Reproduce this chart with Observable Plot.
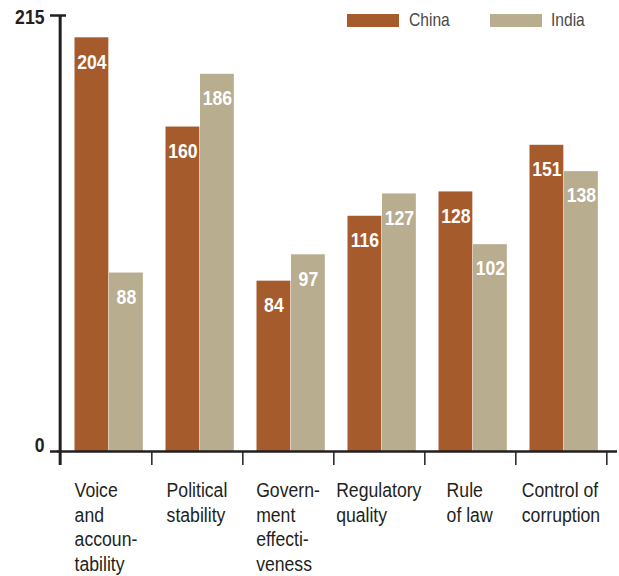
<!DOCTYPE html>
<html><head><meta charset="utf-8">
<script src="https://cdn.jsdelivr.net/npm/d3@7"></script>
<script src="https://cdn.jsdelivr.net/npm/@observablehq/plot@0.6"></script>
<style>
body{margin:0;background:#fff;}
#wrap{position:relative;width:619px;height:576px;font-family:"Liberation Sans",Arial,sans-serif;}
.sw{position:absolute;width:52px;height:13px;}
.lt{position:absolute;font-size:19px;color:#4a4a4a;line-height:20px;transform:scaleX(0.82);transform-origin:0 0;}
</style></head><body><div id="wrap"></div>
<script>
const categories = ["Voice and accountability", "Political stability", "Government effectiveness", "Regulatory quality", "Rule of law", "Control of corruption"];
const categoryLabels = ["Voice\nand\naccoun-\ntability", "Political\nstability", "Govern-\nment\neffecti-\nveness", "Regulatory\nquality", "Rule\nof law", "Control of\ncorruption"];
const series = ["China", "India"];
const china = [204, 160, 84, 116, 128, 151];
const india = [88, 186, 97, 127, 102, 138];
const yTicks = [0, 215];
const colors = ["#a65b2c", "#b8ad8f"];

const data = categories.map((c, i) => ({category: c, china: china[i], india: india[i]}));

const W = 619, H = 576, mL = 58, mR = 11, mT = 15, mB = 125;
const bw = (W - mL - mR) / categories.length;
const barW = 34.5, chinaOff = 14.5, indiaOff = chinaOff + barW;
const ink = "#231f20";
const font = '"Liberation Sans",Arial,sans-serif';
const narrow = 0.84;

const plot = Plot.plot({
  width: W, height: H,
  marginLeft: mL, marginRight: mR, marginTop: mT, marginBottom: mB,
  style: {fontFamily: font, background: "white"},
  x: {type: "band", domain: categories, padding: 0, axis: null},
  y: {domain: [0, 215], axis: null},
  marks: [
    Plot.barY(data, {x: "category", y: "china", fill: colors[0], insetLeft: chinaOff, insetRight: bw - chinaOff - barW}),
    Plot.barY(data, {x: "category", y: "india", fill: colors[1], insetLeft: indiaOff, insetRight: bw - indiaOff - barW}),
    Plot.text(data, {x: "category", y: "china", text: d => String(d.china), dx: chinaOff + barW / 2 - bw / 2, dy: 24, fill: "white", fontWeight: "bold", fontSize: 21}),
    Plot.text(data, {x: "category", y: "india", text: d => String(d.india), dx: indiaOff + barW / 2 - bw / 2, dy: 24, fill: "white", fontWeight: "bold", fontSize: 21}),
    Plot.ruleY([0], {stroke: ink, strokeWidth: 2.5, insetRight: -9, insetLeft: -1}),
    Plot.ruleX([categories[0]], {x: d => d, dx: -bw / 2, stroke: ink, strokeWidth: 3, insetBottom: -14}),
    Plot.axisX({tickSize: 14, dx: bw / 2, tickFormat: () => "", label: null, stroke: ink, strokeWidth: 1.5}),
    Plot.axisY({ticks: yTicks, tickSize: 8, tickFormat: () => "", label: null, stroke: ink, strokeWidth: 2.5}),
    Plot.axisY({ticks: [yTicks[1]], tickSize: 8, dx: 8, tickFormat: () => "", label: null, stroke: ink, strokeWidth: 2.5}),
    Plot.axisY({ticks: [yTicks[1]], tickSize: 0, tickPadding: 14, dy: 2, label: null, fontSize: 21, fontWeight: "bold", fill: ink}),
    Plot.axisY({ticks: [yTicks[0]], tickSize: 0, tickPadding: 14, dy: -6, label: null, fontSize: 21, fontWeight: "bold", fill: ink}),
    Plot.text(categories, {x: d => d, text: (d, i) => categoryLabels[i], frameAnchor: "bottom", lineAnchor: "top", textAnchor: "start", dy: 28, fontSize: 21, lineHeight: 1.17, fill: ink, className: "catlabels"})
  ]
});

const wrap = document.getElementById("wrap");
wrap.appendChild(plot);

// condensed look: compress every text horizontally about its anchor
plot.querySelectorAll("text").forEach(t => {
  let extra = ` scale(${narrow},1)`;
  if (t.closest(".catlabels")) {
    // center each left-aligned label block within its band
    const b = t.getBBox();
    const X = +(t.getAttribute("x") || 0);
    extra += ` translate(${-(b.x - X + b.width / 2)},0)`;
  }
  t.setAttribute("transform", (t.getAttribute("transform") || "") + extra);
});

// legend
const legendPos = [{sw: 347, tx: 409}, {sw: 490, tx: 551}];
series.forEach((s, i) => {
  const sw = document.createElement("div");
  sw.className = "sw";
  sw.style.left = legendPos[i].sw + "px";
  sw.style.top = "14px";
  sw.style.background = colors[i];
  wrap.appendChild(sw);
  const tx = document.createElement("div");
  tx.className = "lt";
  tx.style.left = legendPos[i].tx + "px";
  tx.style.top = "10px";
  tx.textContent = s;
  wrap.appendChild(tx);
});
</script>
</body></html>
